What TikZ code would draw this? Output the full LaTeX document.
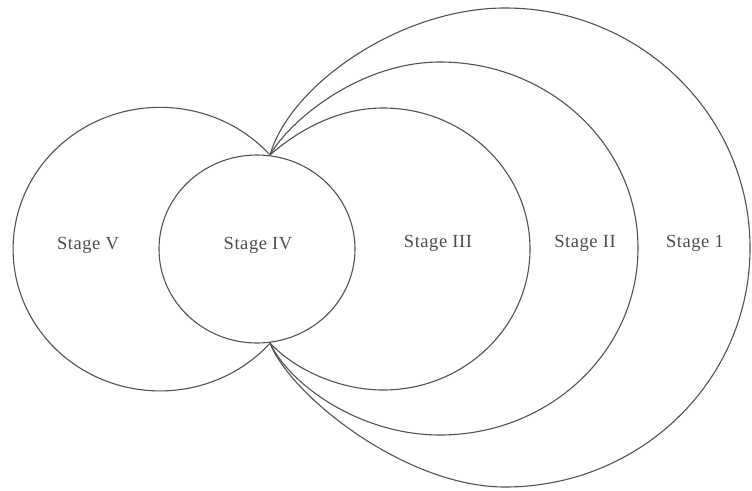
\documentclass[tikz,border=0pt]{standalone}
\usepackage{fontspec}
\setmainfont{Liberation Serif}
\newfontfamily\labelfont[LetterSpace=3]{Liberation Serif}
\begin{document}
\begin{tikzpicture}[x=1pt,y=-1pt,
  stageline/.style={draw=black!68,line width=1.1pt,line join=round},
  stagelabel/.style={text=black!70,font=\labelfont\fontsize{18.5}{20}\selectfont,inner sep=0pt}]
\useasboundingbox (0,0) rectangle (752,490);

% the two points where all the outer curves meet
\coordinate (ctop) at (270,155);
\coordinate (cbot) at (270,343);

% Stage V: left arc, from the upper meeting point round to the lower one
\draw[stageline] (ctop) arc[start angle=-41.6, end angle=-318.4,
  x radius=147, y radius=141.8];

% Stage IV: full circle in the middle
\draw[stageline] (257,249) ellipse [x radius=98, y radius=94];

% Stage III
\draw[stageline] (ctop) .. controls (295,133) and (335,108) .. (383,108)
  .. controls (464,108) and (530,171) .. (530,249)
  .. controls (530,327) and (464,390) .. (383,390)
  .. controls (340,390) and (295,370) .. (cbot);

% Stage II
\draw[stageline] (ctop) .. controls (290,120) and (360,62) .. (440,62)
  .. controls (549,62) and (638,145) .. (638,248)
  .. controls (638,352) and (549,435) .. (440,435)
  .. controls (360,435) and (290,385) .. (cbot);

% Stage I
\draw[stageline] (ctop) .. controls (290,85) and (400,8) .. (505,8)
  .. controls (640,8) and (750,115) .. (750,248)
  .. controls (750,381) and (640,487) .. (505,487)
  .. controls (405,487) and (290,395) .. (cbot);

% labels
\node[stagelabel] (s5) at (88,245) {Stage V};
\node[stagelabel] (s4) at (258,245) {Stage IV};
\node[stagelabel] (s3) at (438,243) {Stage III};
\node[stagelabel] (s2) at (585,243) {Stage II};
\node[stagelabel] (s1) at (695,243) {Stage 1};
\end{tikzpicture}
\end{document}
